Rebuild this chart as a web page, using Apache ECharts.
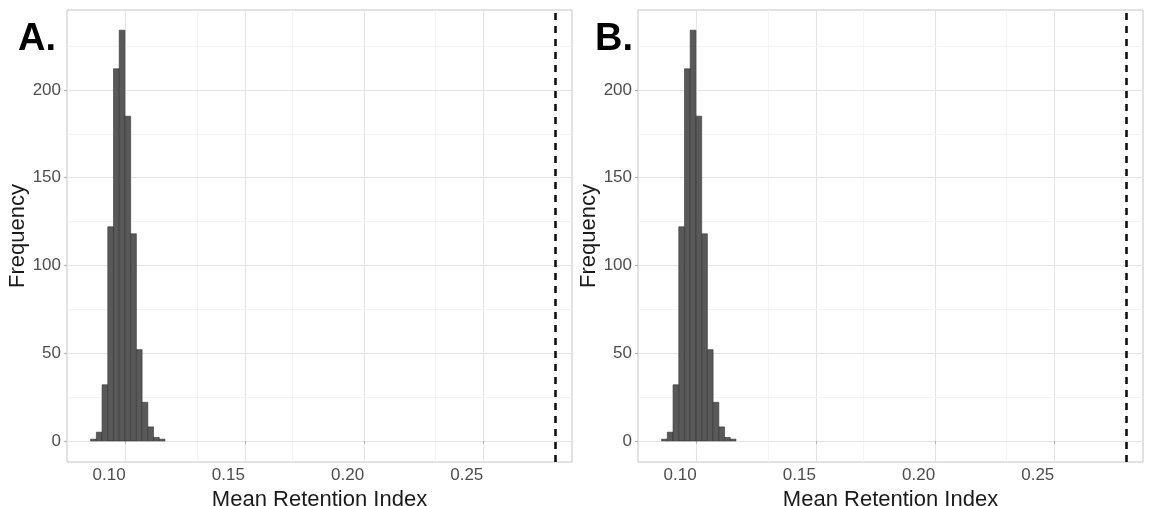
<!DOCTYPE html>
<html>
<head>
<meta charset="utf-8">
<script src="https://cdn.jsdelivr.net/npm/echarts@6/dist/echarts.min.js"></script>
<style>html,body{margin:0;padding:0;background:#fff}#c{width:1150px;height:506px}</style>
</head>
<body>
<div id="c"></div>
<script>
// ---- data ----
const binEdgesA = [0.0853,0.0877,0.0901,0.0925,0.0949,0.0973,0.0997,0.1021,0.1045,0.1069,0.1093,0.1117,0.1141,0.1165];
const countsA   = [1, 5, 32, 122, 212, 234, 185, 118, 52, 22, 8, 2, 1];
const binEdgesB = [0.0853,0.0877,0.0901,0.0925,0.0949,0.0973,0.0997,0.1021,0.1045,0.1069,0.1093,0.1117,0.1141,0.1165];
const countsB   = [1, 5, 32, 122, 212, 234, 185, 118, 52, 22, 8, 2, 1];
const observedA = 0.2783;
const observedB = 0.2783;
const xTicks = [0.10, 0.15, 0.20, 0.25];
const xMinorGrid = [0.075, 0.125, 0.175, 0.225, 0.275];
const yTicks = [0, 50, 100, 150, 200];
const yMinorGrid = [25, 75, 125, 175, 225];
const panelLabels = ['A.', 'B.'];

const FONT = '"Liberation Sans", Arial, sans-serif';

function histData(edges, counts) {
  return counts.map((c, i) => [edges[i], edges[i + 1], c]);
}

const grids = [
  {left: 67, right: 578, top: 10, bottom: 44},
  {left: 638, right: 7, top: 10, bottom: 44}
];

const xAxes = [], yAxes = [], series = [];
const hists = [[binEdgesA, countsA, observedA], [binEdgesB, countsB, observedB]];

grids.forEach((g, i) => {
  xAxes.push({
    type: 'value', gridIndex: i, min: 0.0754, max: 0.2872,
    axisLine: {show: false},
    splitLine: {show: false},
    axisTick: {show: true, length: 3, lineStyle: {color: '#b3b3b3', width: 1}, customValues: xTicks},
    axisLabel: {customValues: xTicks, formatter: v => v.toFixed(2), color: '#4d4d4d', fontSize: 17, fontFamily: FONT, margin: 5, align: 'right'},
    name: 'Mean Retention Index', nameLocation: 'middle', nameGap: 15,
    nameTextStyle: {fontSize: 22, color: '#1a1a1a', fontFamily: FONT}
  });
  yAxes.push({
    type: 'value', gridIndex: i, min: -12, max: 245.5,
    axisLine: {show: false},
    splitLine: {show: false},
    axisTick: {show: true, length: 3, lineStyle: {color: '#b3b3b3', width: 1}, customValues: yTicks},
    axisLabel: {customValues: yTicks, color: '#4d4d4d', fontSize: 17, fontFamily: FONT, margin: 6},
    name: 'Frequency', nameLocation: 'middle', nameGap: 38, nameRotate: 90,
    nameTextStyle: {fontSize: 22, color: '#1a1a1a', fontFamily: FONT}
  });
  const h = hists[i];
  // gridlines
  series.push({
    type: 'line', xAxisIndex: i, yAxisIndex: i, data: [], silent: true, z: 0,
    markLine: {
      silent: true, symbol: 'none', label: {show: false}, animation: false, z: 0,
      data: [
        ...xTicks.map(v => ({xAxis: v, lineStyle: {color: '#e3e3e3', width: 1.1, type: 'solid'}})),
        ...xMinorGrid.map(v => ({xAxis: v, lineStyle: {color: '#f1f1f1', width: 0.8, type: 'solid'}})),
        ...yTicks.map(v => ({yAxis: v, lineStyle: {color: '#e3e3e3', width: 1.1, type: 'solid'}})),
        ...yMinorGrid.map(v => ({yAxis: v, lineStyle: {color: '#f1f1f1', width: 0.8, type: 'solid'}}))
      ]
    }
  });
  series.push({
    type: 'custom', xAxisIndex: i, yAxisIndex: i, z: 3,
    data: histData(h[0], h[1]),
    encode: {x: [0, 1], y: 2},
    renderItem: (params, api) => {
      const p0 = api.coord([api.value(0), api.value(2)]);
      const p1 = api.coord([api.value(1), 0]);
      return {
        type: 'rect',
        shape: {x: p0[0], y: p0[1], width: p1[0] - p0[0], height: p1[1] - p0[1]},
        style: {fill: '#595959', stroke: '#333333', lineWidth: 0.6}
      };
    },
    markLine: {
      silent: true, symbol: 'none', label: {show: false}, animation: false, z: 6,
      data: [{xAxis: h[2], lineStyle: {color: '#111111', width: 2.6, type: [7, 6]}}]
    }
  });
});

const chart = echarts.init(document.getElementById('c'), null, {renderer: 'canvas'});
chart.setOption({
  animation: false,
  backgroundColor: '#ffffff',
  grid: grids.map(g => Object.assign({show: true, borderColor: '#c4c4c4', borderWidth: 1, backgroundColor: 'transparent', outerBoundsMode: 'none', containLabel: false}, g)),
  xAxis: xAxes,
  yAxis: yAxes,
  series: series,
  graphic: [
    {type: 'text', left: 18, top: 21, style: {text: panelLabels[0], font: 'bold 38px ' + FONT, fill: '#000'}},
    {type: 'text', left: 595, top: 21, style: {text: panelLabels[1], font: 'bold 38px ' + FONT, fill: '#000'}}
  ]
});
</script>
</body>
</html>
